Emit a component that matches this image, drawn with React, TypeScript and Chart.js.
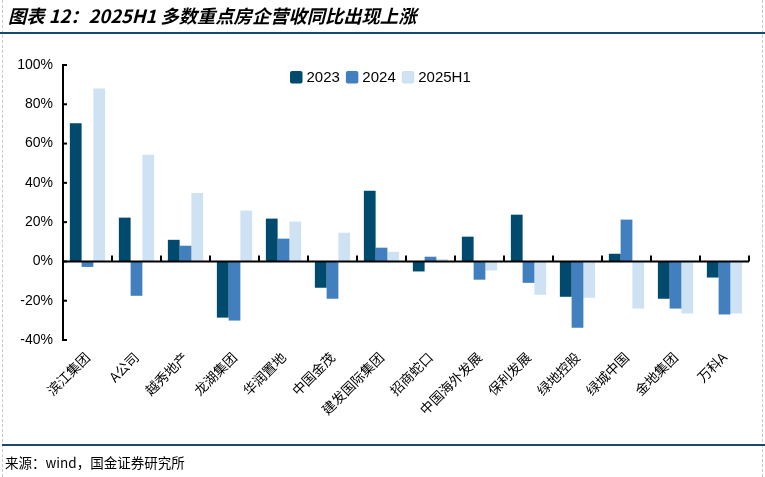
import React, { useEffect, useRef } from "react";
import { Chart, registerables } from "chart.js";

Chart.register(...registerables);

const categories = ["滨江集团", "A公司", "越秀地产", "龙湖集团", "华润置地", "中国金茂", "建发国际集团", "招商蛇口", "中国海外发展", "保利发展", "绿地控股", "绿城中国", "金地集团", "万科A"];
const seriesNames = ["2023", "2024", "2025H1"];
const values2023 = [70.3, 22.3, 11, -28.6, 21.8, -13.4, 36, -5.1, 12.6, 23.8, -18, 3.9, -19, -8.2];
const values2024 = [-2.8, -17.5, 8, -30.1, 11.6, -19, 7, 2.4, -9.3, -10.9, -33.7, 21.3, -24, -27];
const values2025H1 = [88.1, 54.3, 34.9, 25.9, 20.3, 14.6, 4.9, 1.2, -4.6, -17, -18.5, -24, -26.5, -26.5];
const yMin = -40;
const yMax = 100;
const yStep = 20;

const colors = ["#004A6E", "#427FBE", "#CFE2F3"];

const axisPlugin = {
  id: "axisDecor",
  afterDatasetsDraw(chart: any) {
    const { ctx, chartArea, scales } = chart;
    const x = scales.x;
    const y = scales.y;
    const y0 = y.getPixelForValue(0);
    ctx.save();
    ctx.strokeStyle = "#000";
    ctx.lineWidth = 2;
    ctx.beginPath();
    ctx.moveTo(chartArea.left, y0);
    ctx.lineTo(chartArea.right, y0);
    ctx.stroke();
    for (let i = 0; i <= categories.length; i++) {
      const px = Math.round(x.getPixelForValue(i - 0.5));
      ctx.beginPath();
      ctx.moveTo(px, y0);
      ctx.lineTo(px, y0 - 6);
      ctx.stroke();
    }
    y.ticks.forEach((t: any) => {
      const py = y.getPixelForValue(t.value);
      ctx.beginPath();
      ctx.moveTo(chartArea.left - 1, py);
      ctx.lineTo(chartArea.left + 4, py);
      ctx.stroke();
    });
    ctx.restore();
  },
  afterDraw(chart: any) {
    const { ctx } = chart;
    ctx.save();
    ctx.font = "15px 'Liberation Sans', Arial, sans-serif";
    ctx.textBaseline = "middle";
    let px = 290;
    const boxTop = 71;
    const box = 12.5;
    chart.data.datasets.forEach((ds: any) => {
      ctx.fillStyle = ds.backgroundColor;
      ctx.beginPath();
      if (ctx.roundRect) ctx.roundRect(px, boxTop, box, box, 2);
      else ctx.rect(px, boxTop, box, box);
      ctx.fill();
      px += box + 4;
      ctx.fillStyle = "#000";
      ctx.fillText(ds.label, px, boxTop + box / 2 + 1);
      px += ctx.measureText(ds.label).width + 6;
    });
    ctx.restore();
  },
};

export default function App() {
  const canvasRef = useRef<HTMLCanvasElement | null>(null);

  useEffect(() => {
    if (!canvasRef.current) return;
    const chart = new Chart(canvasRef.current, {
      type: "bar",
      data: {
        labels: categories,
        datasets: [values2023, values2024, values2025H1].map((d, i) => ({
          label: seriesNames[i],
          data: d,
          backgroundColor: colors[i],
          borderWidth: 0,
          categoryPercentage: 0.72,
          barPercentage: 1.0,
        })),
      },
      options: {
        responsive: false,
        animation: false,
        layout: { padding: { top: 65, right: 16, left: 0, bottom: 37 } },
        plugins: { legend: { display: false }, tooltip: { enabled: false } },
        scales: {
          x: {
            grid: { display: false, drawTicks: false },
            border: { display: false },
            afterFit(scale: any) {
              scale.height = 100;
            },
            ticks: {
              autoSkip: false,
              maxRotation: 45,
              minRotation: 45,
              padding: 9,
              color: "#000",
              font: { family: "'Noto Sans CJK SC', sans-serif", size: 13.5 },
            },
          },
          y: {
            min: yMin,
            max: yMax,
            grid: { display: false, drawTicks: false },
            border: { display: true, color: "#000", width: 2 },
            afterFit(scale: any) {
              scale.width = 63;
            },
            ticks: {
              stepSize: yStep,
              padding: 10,
              color: "#000",
              font: { family: "'Liberation Sans', Arial, sans-serif", size: 14 },
              callback: (v: any) => v + "%",
            },
          },
        },
      },
      plugins: [axisPlugin],
    });
    return () => chart.destroy();
  }, []);

  return (
    <div style={{ position: "absolute", left: 0, top: 0, width: 765, height: 477, background: "#fff", overflow: "hidden" }}>
      <canvas ref={canvasRef} width={765} height={477} style={{ position: "absolute", left: 0, top: 0 }} />
      <div style={{ position: "absolute", left: 2, top: 0, height: 477, borderLeft: "1px dashed #c8c8c8" }} />
      <div style={{ position: "absolute", left: 762, top: 0, height: 477, borderLeft: "1px dashed #c8c8c8" }} />
      <div
        style={{
          position: "absolute",
          left: 8,
          top: 4,
          fontFamily: "'Noto Sans CJK SC', sans-serif",
          fontWeight: 700,
          fontStyle: "italic",
          fontSize: 18.3,
          lineHeight: "22px",
          color: "#000",
          whiteSpace: "nowrap",
        }}
      >
        图表 12：2025H1 多数重点房企营收同比出现上涨
      </div>
      <div style={{ position: "absolute", left: 0, top: 32, width: 765, height: 2, background: "#114A6C" }} />
      <div style={{ position: "absolute", left: 2, top: 444, width: 763, height: 2, background: "#1B4965" }} />
      <div
        style={{
          position: "absolute",
          left: 5,
          top: 453,
          fontFamily: "'Noto Sans CJK SC', sans-serif",
          fontSize: 13.5,
          lineHeight: "18px",
          color: "#000",
          whiteSpace: "nowrap",
        }}
      >
        来源：wind，国金证券研究所
      </div>
    </div>
  );
}
